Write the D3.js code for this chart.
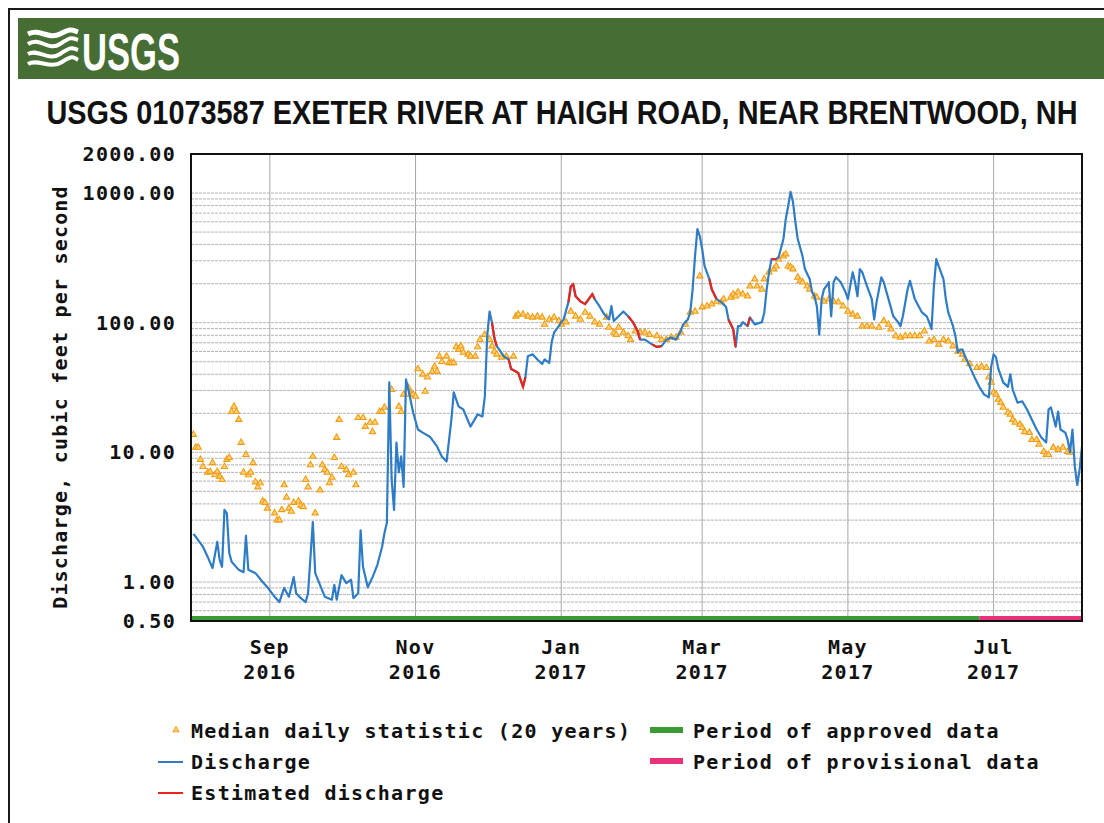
<!DOCTYPE html>
<html>
<head>
<meta charset="utf-8">
<script src="https://cdn.jsdelivr.net/npm/d3@7"></script>
<style>
  body { margin: 0; background: #fff; }
  svg { display: block; }
  .mono { font-family: "DejaVu Sans Mono", "Liberation Mono", monospace; font-weight: bold; fill: #111; }
</style>
</head>
<body>
<div id="canvas"></div>
<script>
var title = "USGS 01073587 EXETER RIVER AT HAIGH ROAD, NEAR BRENTWOOD, NH";
var yLabel = "Discharge, cubic feet per second";

// daily discharge, cfs
var discharge = [
  ["2016-07-31",2.35],["2016-08-01",2.23],["2016-08-04",1.87],["2016-08-06",1.56],["2016-08-08",1.28],["2016-08-10",2.04],
  ["2016-08-11",1.48],["2016-08-12",1.31],["2016-08-13",3.6],["2016-08-14",3.4],["2016-08-15",1.68],["2016-08-16",1.43],
  ["2016-08-19",1.24],["2016-08-21",1.19],["2016-08-22",2.27],["2016-08-23",1.24],["2016-08-26",1.17],["2016-08-29",1.0],
  ["2016-08-31",0.91],["2016-09-03",0.77],["2016-09-05",0.70],["2016-09-07",0.90],["2016-09-09",0.77],["2016-09-11",1.09],
  ["2016-09-12",0.82],["2016-09-14",0.75],["2016-09-16",0.70],["2016-09-17",0.82],["2016-09-19",2.9],["2016-09-20",1.17],
  ["2016-09-22",0.95],["2016-09-24",0.77],["2016-09-27",0.73],["2016-09-28",0.95],["2016-09-29",0.73],["2016-10-01",1.13],
  ["2016-10-03",0.98],["2016-10-05",1.04],["2016-10-06",0.75],["2016-10-08",0.82],["2016-10-09",2.5],["2016-10-10",1.31],
  ["2016-10-12",0.91],["2016-10-14",1.09],["2016-10-16",1.35],["2016-10-18",1.87],["2016-10-19",2.39],["2016-10-20",2.86],
  ["2016-10-21",34.6],["2016-10-22",6.15],["2016-10-23",3.6],["2016-10-24",11.9],["2016-10-25",7.0],["2016-10-26",9.3],
  ["2016-10-27",5.4],["2016-10-28",36.5],["2016-10-29",30.5],["2016-10-31",20.3],["2016-11-02",15.0],["2016-11-04",14.2],
  ["2016-11-07",13.2],["2016-11-10",11.1],["2016-11-12",9.3],["2016-11-14",8.5],["2016-11-16",17.9],["2016-11-17",29],
  ["2016-11-19",22.6],["2016-11-21",21.4],["2016-11-24",15.8],["2016-11-27",19.6],["2016-11-29",18.9],["2016-11-30",27],
  ["2016-12-01",79],["2016-12-02",122],["2016-12-03",100],["2016-12-04",76],["2016-12-05",66],["2016-12-08",55],
  ["2016-12-10",52],["2016-12-11",44],["2016-12-13",42],["2016-12-14",41],["2016-12-16",32],["2016-12-17",38],
  ["2016-12-18",55],["2016-12-20",57],["2016-12-22",52],["2016-12-24",48],["2016-12-25",52],["2016-12-27",49],
  ["2016-12-28",71],["2016-12-29",84],["2016-12-31",94],["2017-01-01",101],["2017-01-02",106],["2017-01-04",144],
  ["2017-01-05",191],["2017-01-06",198],["2017-01-07",160],["2017-01-09",146],["2017-01-11",139],["2017-01-14",166],
  ["2017-01-15",152],["2017-01-17",134],["2017-01-19",116],["2017-01-21",106],["2017-01-22",134],["2017-01-23",103],
  ["2017-01-25",112],["2017-01-27",122],["2017-01-29",112],["2017-01-31",101],["2017-02-02",86],["2017-02-03",74],
  ["2017-02-05",74],["2017-02-08",68],["2017-02-10",65],["2017-02-12",66],["2017-02-14",74],["2017-02-16",77],
  ["2017-02-18",74],["2017-02-20",86],["2017-02-21",97],["2017-02-23",106],["2017-02-24",120],["2017-02-25",181],
  ["2017-02-26",326],["2017-02-27",528],["2017-02-28",466],["2017-03-01",370],["2017-03-02",273],["2017-03-04",217],
  ["2017-03-05",181],["2017-03-07",152],["2017-03-09",144],["2017-03-11",132],["2017-03-12",106],["2017-03-14",89],
  ["2017-03-15",65],["2017-03-16",94],["2017-03-17",94],["2017-03-18",101],["2017-03-20",94],["2017-03-21",110],
  ["2017-03-23",97],["2017-03-26",101],["2017-03-27",120],["2017-03-28",181],["2017-03-29",245],["2017-03-30",309],
  ["2017-04-01",309],["2017-04-02",320],["2017-04-04",442],["2017-04-05",631],["2017-04-06",795],["2017-04-07",1020],
  ["2017-04-08",853],["2017-04-09",598],["2017-04-10",442],["2017-04-12",326],["2017-04-13",259],["2017-04-15",217],
  ["2017-04-16",172],["2017-04-17",160],["2017-04-18",134],["2017-04-19",81],["2017-04-20",152],["2017-04-21",181],
  ["2017-04-23",205],["2017-04-24",112],["2017-04-25",205],["2017-04-26",224],["2017-04-28",205],["2017-04-30",172],
  ["2017-05-01",152],["2017-05-03",245],["2017-05-04",205],["2017-05-05",160],["2017-05-06",259],["2017-05-07",245],
  ["2017-05-09",191],["2017-05-11",152],["2017-05-12",106],["2017-05-13",144],["2017-05-15",224],["2017-05-16",205],
  ["2017-05-18",152],["2017-05-20",112],["2017-05-22",101],["2017-05-23",94],["2017-05-24",112],["2017-05-26",181],
  ["2017-05-27",210],["2017-05-29",152],["2017-06-01",120],["2017-06-03",112],["2017-06-04",101],["2017-06-05",89],
  ["2017-06-06",191],["2017-06-07",309],["2017-06-08",273],["2017-06-10",217],["2017-06-11",152],["2017-06-12",120],
  ["2017-06-14",94],["2017-06-15",79],["2017-06-16",59],["2017-06-17",62],["2017-06-18",62],["2017-06-19",55],
  ["2017-06-21",46],["2017-06-23",38],["2017-06-25",32],["2017-06-27",28],["2017-06-29",26.5],["2017-06-30",46],
  ["2017-07-01",57],["2017-07-02",54],["2017-07-03",44],["2017-07-05",34.6],["2017-07-07",32],["2017-07-08",40],
  ["2017-07-09",30.5],["2017-07-11",24.2],["2017-07-13",24.7],["2017-07-15",21.4],["2017-07-17",17.9],["2017-07-19",15.0],
  ["2017-07-21",13.0],["2017-07-23",11.9],["2017-07-24",21.4],["2017-07-25",22.2],["2017-07-27",15.8],["2017-07-28",20.6],
  ["2017-07-29",15.0],["2017-07-31",14.2],["2017-08-01",12.5],["2017-08-02",10],["2017-08-03",15],["2017-08-04",7.75],
  ["2017-08-05",5.6],["2017-08-06",7.35],["2017-08-07",11.1]
];

// stretches where discharge is estimated (drawn red)
var estimatedPeriods = [
  ["2016-12-03","2016-12-05"],["2016-12-10","2016-12-17"],["2017-01-04","2017-01-15"],
  ["2017-01-29","2017-02-03"],["2017-02-08","2017-02-12"],["2017-03-04","2017-03-07"],
  ["2017-03-12","2017-03-15"],["2017-03-20","2017-03-21"],["2017-03-30","2017-04-01"]
];

// median daily statistic (20 years)
var median = [
  ["2016-07-31",13.7],["2016-08-01",10.9],["2016-08-02",10.9],["2016-08-03",8.8],["2016-08-04",7.75],["2016-08-06",7.0],
  ["2016-08-07",7.1],["2016-08-08",8.3],["2016-08-09",6.7],["2016-08-10",7.1],["2016-08-11",6.5],["2016-08-12",6.15],
  ["2016-08-13",7.75],["2016-08-14",8.8],["2016-08-15",9.1],["2016-08-16",20.6],["2016-08-17",22.6],["2016-08-18",20.6],
  ["2016-08-19",17.9],["2016-08-20",11.9],["2016-08-21",7.0],["2016-08-22",9.6],["2016-08-23",6.7],["2016-08-24",7.0],
  ["2016-08-25",8.3],["2016-08-26",5.9],["2016-08-27",5.4],["2016-08-28",5.8],["2016-08-29",4.2],["2016-08-30",4.1],
  ["2016-08-31",3.7],["2016-09-03",3.4],["2016-09-04",3.0],["2016-09-05",3.0],["2016-09-06",3.6],["2016-09-07",5.6],
  ["2016-09-08",4.5],["2016-09-09",3.7],["2016-09-10",3.5],["2016-09-11",4.1],["2016-09-13",4.2],["2016-09-14",3.9],
  ["2016-09-15",3.8],["2016-09-16",6.15],["2016-09-17",5.4],["2016-09-18",8.0],["2016-09-19",9.3],["2016-09-20",3.4],
  ["2016-09-22",5.1],["2016-09-23",8.0],["2016-09-24",7.35],["2016-09-25",7.0],["2016-09-26",5.8],["2016-09-27",6.4],
  ["2016-09-28",9.1],["2016-09-29",13.0],["2016-09-30",17.9],["2016-10-01",7.75],["2016-10-03",7.35],["2016-10-04",6.7],
  ["2016-10-06",7.0],["2016-10-07",5.6],["2016-10-08",18.5],["2016-10-10",18.5],["2016-10-11",15.8],["2016-10-13",17.0],
  ["2016-10-14",14.4],["2016-10-15",17.0],["2016-10-17",20.6],["2016-10-18",20.6],["2016-10-19",22.2],["2016-10-22",30.5],
  ["2016-10-25",22.6],["2016-10-26",20.6],["2016-10-27",28],["2016-10-29",31.6],["2016-10-30",28],["2016-10-31",28],
  ["2016-11-01",27],["2016-11-02",44],["2016-11-04",40],["2016-11-05",29.5],["2016-11-06",38],["2016-11-08",42],
  ["2016-11-09",46],["2016-11-10",42],["2016-11-11",55],["2016-11-12",50],["2016-11-14",55],["2016-11-15",49],
  ["2016-11-16",49],["2016-11-17",49],["2016-11-18",65],["2016-11-19",62],["2016-11-20",66],["2016-11-21",59],
  ["2016-11-23",57],["2016-11-24",55],["2016-11-26",55],["2016-11-27",65],["2016-11-28",74],["2016-11-30",81],
  ["2016-12-02",74],["2016-12-03",66],["2016-12-04",60],["2016-12-05",57],["2016-12-07",54],["2016-12-09",55],
  ["2016-12-12",55],["2016-12-13",112],["2016-12-14",116],["2016-12-16",116],["2016-12-18",112],["2016-12-20",110],
  ["2016-12-22",112],["2016-12-24",110],["2016-12-25",97],["2016-12-27",106],["2016-12-29",110],["2016-12-31",103],
  ["2017-01-01",97],["2017-01-03",101],["2017-01-05",122],["2017-01-07",112],["2017-01-09",106],["2017-01-11",120],
  ["2017-01-13",112],["2017-01-15",101],["2017-01-17",97],["2017-01-20",110],["2017-01-21",92],["2017-01-23",84],
  ["2017-01-24",81],["2017-01-25",92],["2017-01-27",84],["2017-01-29",79],["2017-01-30",74],["2017-02-01",86],
  ["2017-02-03",84],["2017-02-05",84],["2017-02-07",81],["2017-02-10",79],["2017-02-12",74],["2017-02-14",74],
  ["2017-02-16",77],["2017-02-18",77],["2017-02-20",84],["2017-02-22",97],["2017-02-24",120],["2017-02-26",122],
  ["2017-02-28",229],["2017-03-01",132],["2017-03-03",134],["2017-03-05",139],["2017-03-07",146],["2017-03-09",144],
  ["2017-03-10",152],["2017-03-13",157],["2017-03-14",166],["2017-03-15",160],["2017-03-16",172],["2017-03-18",166],
  ["2017-03-20",160],["2017-03-21",191],["2017-03-23",217],["2017-03-24",191],["2017-03-26",181],["2017-03-27",217],
  ["2017-03-29",245],["2017-03-31",259],["2017-04-01",273],["2017-04-02",309],["2017-04-04",326],["2017-04-05",338],
  ["2017-04-06",273],["2017-04-07",268],["2017-04-08",259],["2017-04-10",224],["2017-04-11",210],["2017-04-12",205],
  ["2017-04-14",191],["2017-04-15",181],["2017-04-17",160],["2017-04-18",157],["2017-04-21",146],["2017-04-23",152],
  ["2017-04-25",146],["2017-04-27",144],["2017-04-29",134],["2017-05-01",122],["2017-05-03",116],["2017-05-05",112],
  ["2017-05-07",94],["2017-05-09",94],["2017-05-11",94],["2017-05-14",92],["2017-05-16",103],["2017-05-18",97],
  ["2017-05-19",89],["2017-05-21",79],["2017-05-23",77],["2017-05-25",79],["2017-05-27",79],["2017-05-29",79],
  ["2017-05-31",79],["2017-06-02",86],["2017-06-04",72],["2017-06-06",74],["2017-06-08",68],["2017-06-10",74],
  ["2017-06-12",72],["2017-06-14",66],["2017-06-16",60],["2017-06-18",57],["2017-06-19",52],["2017-06-21",48],
  ["2017-06-24",45],["2017-06-26",46],["2017-06-28",45],["2017-06-29",38],["2017-06-30",34.6],["2017-07-01",29],
  ["2017-07-02",28],["2017-07-03",25.6],["2017-07-04",24.2],["2017-07-05",22.2],["2017-07-07",20.3],["2017-07-08",19.6],
  ["2017-07-09",17.9],["2017-07-10",17.0],["2017-07-12",16.4],["2017-07-13",15.5],["2017-07-14",14.4],["2017-07-16",14.2],
  ["2017-07-17",12.5],["2017-07-19",12.5],["2017-07-20",11.5],["2017-07-22",10.1],["2017-07-23",9.6],["2017-07-24",9.6],
  ["2017-07-26",10.9],["2017-07-28",10.5],["2017-07-30",10.9],["2017-08-01",10.1],["2017-08-02",10]
];

var dateRange = ["2016-07-30", "2017-08-07"];
var provisionalStart = "2017-06-25";
var yTicks = [2000, 1000, 100, 10, 1, 0.5];
var xTicks = ["2016-09-01", "2016-11-01", "2017-01-01", "2017-03-01", "2017-05-01", "2017-07-01"];

var parse = d3.timeParse("%Y-%m-%d");
var width = 1104, height = 823;
var pLeft = 191, pRight = 1082, pTop = 154, pBottom = 621;

var svg = d3.select("#canvas").append("svg")
    .attr("width", width)
    .attr("height", height);

// page frame + header band
svg.append("rect").attr("x", 9).attr("y", 9).attr("width", 1200).attr("height", 900)
    .attr("fill", "none").attr("stroke", "#1a1a1a").attr("stroke-width", 2);
svg.append("rect").attr("x", 18).attr("y", 18).attr("width", 1100).attr("height", 61)
    .attr("fill", "#466d34");

// wave mark of the logo
var logo = svg.append("g").attr("fill", "none").attr("stroke", "#fff");
logo.append("path").attr("d", "M28,34 C40,28 48,40 60,34 S72,30 78,32").attr("stroke-width", 5);
logo.append("path").attr("d", "M28,44 C40,36 48,52 60,44 S72,38 78,40").attr("stroke-width", 4);
logo.append("path").attr("d", "M28,54 C38,48 48,62 60,54 S72,48 78,50").attr("stroke-width", 4);
logo.append("path").attr("d", "M28,64 C38,58 50,70 62,62 S74,58 78,60").attr("stroke-width", 4);
svg.append("text").attr("x", 82).attr("y", 70)
    .attr("textLength", 98).attr("lengthAdjust", "spacingAndGlyphs")
    .style("font-family", "'Liberation Sans Narrow', 'Liberation Sans', Arial, sans-serif")
    .style("font-weight", "bold").style("font-size", "52px").style("fill", "#fff")
    .text("USGS");

svg.append("text").attr("x", 562).attr("y", 124).attr("text-anchor", "middle")
    .attr("textLength", 1031).attr("lengthAdjust", "spacingAndGlyphs")
    .style("font-family", "'Liberation Sans Narrow', 'Liberation Sans', Arial, sans-serif")
    .style("font-weight", "bold").style("font-size", "34px").style("fill", "#111")
    .text(title);

var x = d3.scaleTime().domain(dateRange.map(parse)).range([pLeft, pRight]);
var y = d3.scaleLog().domain([0.5, 2000]).range([pBottom, pTop]);

svg.append("clipPath").attr("id", "plot")
  .append("rect").attr("x", pLeft).attr("y", pTop).attr("width", pRight - pLeft).attr("height", pBottom - pTop);

var plot = svg.append("g").attr("clip-path", "url(#plot)");

// grid
plot.selectAll(".hgrid").data(y.ticks()).enter().append("line")
    .attr("x1", pLeft).attr("x2", pRight)
    .attr("y1", function (d) { return y(d); }).attr("y2", function (d) { return y(d); })
    .attr("stroke", "#9a9a9a").attr("stroke-opacity", 0.75).attr("stroke-dasharray", "3,1");
plot.selectAll(".vgrid").data(xTicks.map(parse)).enter().append("line")
    .attr("x1", function (d) { return x(d); }).attr("x2", function (d) { return x(d); })
    .attr("y1", pTop).attr("y2", pBottom)
    .attr("stroke", "#a8a8a8").attr("stroke-width", 1);

// median points
var tri = d3.symbol().type(d3.symbolTriangle).size(17);
plot.selectAll(".med").data(median).enter().append("path")
    .attr("d", tri)
    .attr("transform", function (d) { return "translate(" + x(parse(d[0])) + "," + y(d[1]) + ")"; })
    .attr("fill", "#fdd27c").attr("stroke", "#f39c12").attr("stroke-width", 1.1);

var line = d3.line()
    .x(function (d) { return x(parse(d[0])); })
    .y(function (d) { return y(d[1]); });

plot.append("path").datum(discharge).attr("d", line)
    .attr("fill", "none").attr("stroke", "#2f7cc6").attr("stroke-width", 2.2)
    .attr("stroke-linejoin", "round");

estimatedPeriods.forEach(function (p) {
    var s = parse(p[0]), e = parse(p[1]);
    var part = discharge.filter(function (d) { var t = parse(d[0]); return t >= s && t <= e; });
    plot.append("path").datum(part).attr("d", line)
        .attr("fill", "none").attr("stroke", "#e8261c").attr("stroke-width", 2.2);
});

// approved / provisional bar
svg.append("rect").attr("x", pLeft).attr("y", pBottom - 5)
    .attr("width", x(parse(provisionalStart)) - pLeft).attr("height", 5).attr("fill", "#3c9a34");
svg.append("rect").attr("x", x(parse(provisionalStart))).attr("y", pBottom - 5)
    .attr("width", pRight - x(parse(provisionalStart))).attr("height", 5).attr("fill", "#e8327a");

svg.append("rect").attr("x", pLeft).attr("y", pTop).attr("width", pRight - pLeft).attr("height", pBottom - pTop)
    .attr("fill", "none").attr("stroke", "#111").attr("stroke-width", 2);

// axis labels
var fmt = d3.format(".2f");
svg.selectAll(".ylab").data(yTicks).enter().append("text")
    .attr("class", "mono")
    .attr("x", 176).attr("y", function (d) { return y(d) + 7; })
    .attr("text-anchor", "end")
    .style("font-size", "20px").style("letter-spacing", "1.3px")
    .text(function (d) { return fmt(d); });

svg.selectAll(".xmon").data(xTicks.map(parse)).enter().append("text")
    .attr("class", "mono")
    .attr("x", function (d) { return x(d); }).attr("y", 654)
    .attr("text-anchor", "middle")
    .style("font-size", "20px").style("letter-spacing", "1.3px")
    .text(d3.timeFormat("%b"));
svg.selectAll(".xyr").data(xTicks.map(parse)).enter().append("text")
    .attr("class", "mono")
    .attr("x", function (d) { return x(d); }).attr("y", 679)
    .attr("text-anchor", "middle")
    .style("font-size", "20px").style("letter-spacing", "1.3px")
    .text(d3.timeFormat("%Y"));

svg.append("text").attr("class", "mono")
    .attr("transform", "translate(67,397) rotate(-90)")
    .attr("text-anchor", "middle")
    .style("font-size", "20px").style("letter-spacing", "1.2px")
    .text(yLabel);

// legend
var legend = svg.append("g").attr("class", "legend");
legend.append("path").attr("d", d3.symbol().type(d3.symbolTriangle).size(17))
    .attr("transform", "translate(176,730)").attr("fill", "#fdd27c").attr("stroke", "#f39c12");
legend.append("line").attr("x1", 158).attr("x2", 183).attr("y1", 762).attr("y2", 762)
    .attr("stroke", "#2f7cc6").attr("stroke-width", 2);
legend.append("line").attr("x1", 158).attr("x2", 183).attr("y1", 793).attr("y2", 793)
    .attr("stroke", "#e8261c").attr("stroke-width", 2);
legend.append("rect").attr("x", 650).attr("y", 727).attr("width", 33).attr("height", 6).attr("fill", "#3c9a34");
legend.append("rect").attr("x", 650).attr("y", 758).attr("width", 33).attr("height", 6).attr("fill", "#e8327a");

var legendText = [
  [191, 738, "Median daily statistic (20 years)"],
  [191, 769, "Discharge"],
  [191, 800, "Estimated discharge"],
  [693, 738, "Period of approved data"],
  [693, 769, "Period of provisional data"]
];
legend.selectAll("text").data(legendText).enter().append("text")
    .attr("class", "mono")
    .attr("x", function (d) { return d[0]; }).attr("y", function (d) { return d[1]; })
    .style("font-size", "20px").style("letter-spacing", "1.3px")
    .text(function (d) { return d[2]; });
</script>
</body>
</html>
